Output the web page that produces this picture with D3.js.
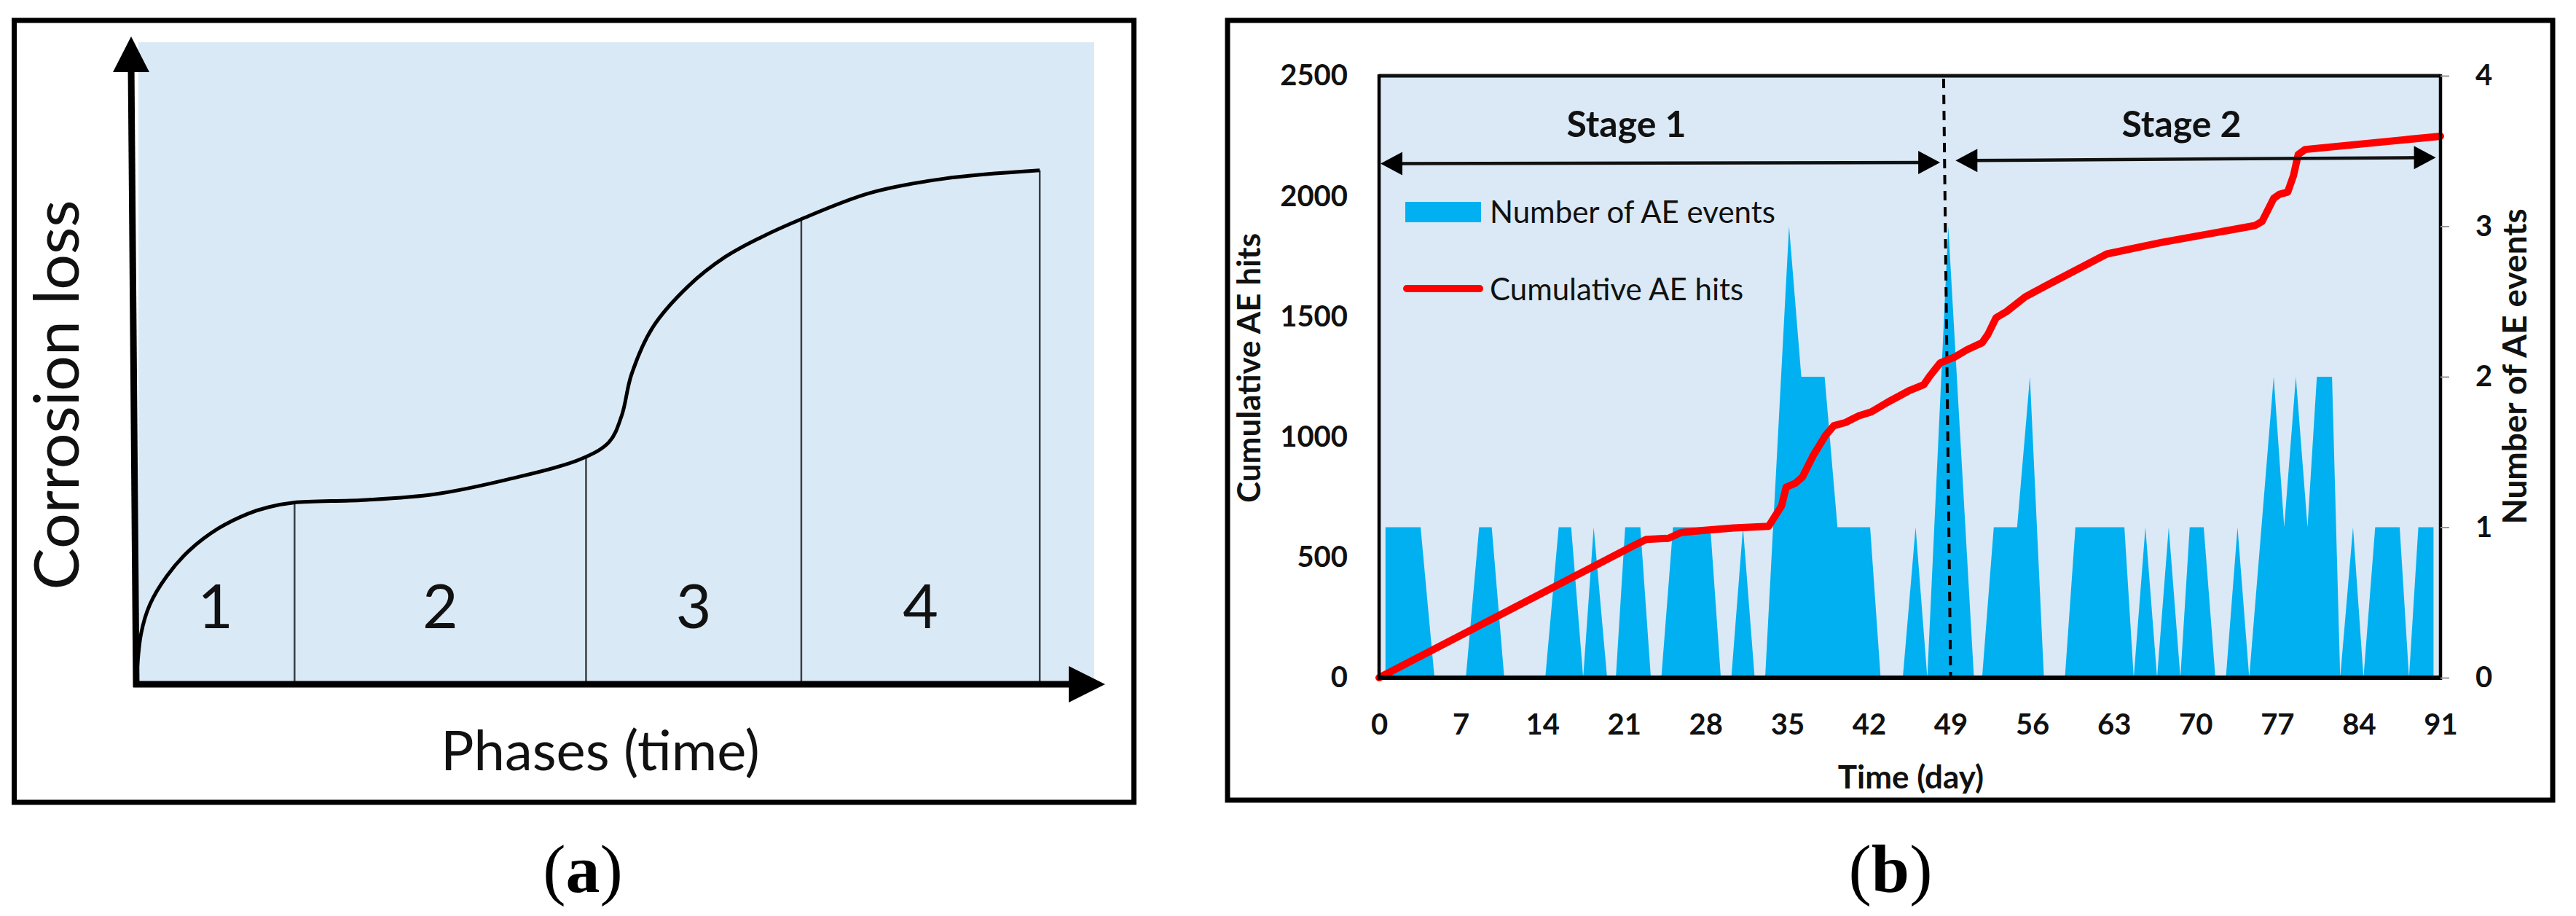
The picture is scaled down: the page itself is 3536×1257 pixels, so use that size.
<!DOCTYPE html>
<html><head><meta charset="utf-8">
<script src="https://cdn.jsdelivr.net/npm/d3@7"></script>
<style>body{margin:0;background:#fff}svg{display:block}</style>
</head><body>
<svg id="c" width="3536" height="1257"></svg>
<script>
// ---------- Panel (a) data (schematic, arbitrary units 0..10) ----------
const curveTime = [0, 0.05, 0.14, 0.32, 0.55, 0.85, 1.16, 1.37, 1.63, 2.35, 3.09, 3.85, 4.60, 4.90, 5.03, 5.13, 5.35, 5.72, 6.10, 6.48, 6.88, 7.60, 8.36, 9.36];
const curveLoss = [0, 0.78, 1.23, 1.68, 2.07, 2.41, 2.64, 2.74, 2.81, 2.85, 2.94, 3.17, 3.48, 3.75, 4.16, 4.79, 5.52, 6.16, 6.61, 6.92, 7.19, 7.60, 7.82, 7.95];
const phaseBoundaryTime = [1.64, 4.66, 6.89, 9.36];
const phaseBoundaryLoss = [2.81, 3.52, 7.20, 7.95];
const phaseLabels = ["1", "2", "3", "4"];
const panelATitleX = "Phases (time)";
const panelATitleY = "Corrosion loss";

// ---------- Panel (b) data ----------
const dayTicks = [0, 7, 14, 21, 28, 35, 42, 49, 56, 63, 70, 77, 84, 91];
const hitsTicks = [0, 500, 1000, 1500, 2000, 2500];
const eventTicks = [0, 1, 2, 3, 4];

// Number of AE events (vertices of the area, day / count)
const aeDay = [0.55, 3.56, 4.75, 7.44, 8.58, 9.66, 10.73, 14.25, 15.4, 16.47, 17.5, 18.4, 19.55,
  20.3, 21.1, 22.4, 23.3, 24.2, 25.2, 28.4, 29.3, 30.2, 31.2, 32.2,
  33.1, 35.15, 36.2, 38.2, 39.3, 42.1, 43.0, 44.9, 46.0, 47.0, 48.8, 51.0,
  51.7, 52.7, 54.7, 55.8, 57.0, 58.8, 59.7, 63.9, 64.7, 65.7, 66.7, 67.7, 68.7, 69.5, 70.7, 71.7,
  72.6, 73.6, 74.6, 76.7, 77.6, 78.6, 79.6, 80.4, 81.7, 82.4, 83.5, 84.4, 85.4, 87.5, 88.3, 89.1, 90.4];
const aeCount = [1, 1, 0, 0, 1, 1, 0, 0, 1, 1, 0, 1, 0,
  0, 1, 1, 0, 0, 1, 1, 0, 0, 1, 0,
  0, 3, 2, 2, 1, 1, 0, 0, 1, 0, 3, 0,
  0, 1, 1, 2, 0, 0, 1, 1, 0, 1, 0, 1, 0, 1, 1, 0,
  0, 1, 0, 2, 1, 2, 1, 2, 2, 0, 1, 0, 1, 1, 0, 1, 1];

// Cumulative AE hits
const hitDay = [0, 21.8, 22.9, 24.8, 25.9, 27.9, 30.4, 33.4, 34.5, 34.9, 35.7, 36.3, 37.2, 38.3, 39.0, 40.0, 41.1, 42.2,
  43.6, 45.4, 46.7, 47.2, 48.1, 49.4, 50.4, 51.7, 52.2, 52.9, 53.8, 55.4, 57.1, 62.4, 67.1, 75.1, 75.7, 76.7, 77.2, 77.9, 78.4, 78.8, 79.4, 91];
const hitCum = [0, 548, 574, 579, 603, 612, 622, 629, 713, 791, 808, 834, 921, 1008, 1047, 1060, 1087, 1104,
  1144, 1191, 1217, 1252, 1307, 1333, 1362, 1391, 1426, 1495, 1521, 1582, 1626, 1760, 1808, 1878, 1895, 1991, 2008, 2017, 2086, 2173, 2194, 2249];

const stageNames = ["Stage 1", "Stage 2"];
const stageFrom = [0, 49.3];
const stageTo = [48.1, 90.6];
const stageLabelDay = [21.2, 68.8];
const stageLevel = [2135, 2148];
const stageLevelEnd = [2140, 2160];
const dividerDayTop = 48.4, dividerDayBottom = 49;
const seriesNames = ["Number of AE events", "Cumulative AE hits"];

const svg = d3.select("#c");
const FONT = "Lato, 'Open Sans', sans-serif";

// =================== PANEL A ===================
const ax = d3.scaleLinear().domain([0, 10]).range([187, 1512]);
const ay = d3.scaleLinear().domain([0, 10]).range([939, 52]);

svg.append("rect").attr("x", 19.5).attr("y", 28).attr("width", 1537).attr("height", 1073)
  .attr("fill", "none").attr("stroke", "#000").attr("stroke-width", 7);

svg.append("rect").attr("x", 190).attr("y", 58).attr("width", 1312).attr("height", 877).attr("fill", "#dae9f6");

// phase boundary lines
svg.append("g").selectAll("line").data(phaseBoundaryTime).join("line")
  .attr("x1", d => ax(d)).attr("x2", d => ax(d))
  .attr("y1", (d, i) => ay(phaseBoundaryLoss[i])).attr("y2", ay(0))
  .attr("stroke", "#3a3f44").attr("stroke-width", 2.5);

// curve
const curvePts = curveTime.map((t, i) => [t, curveLoss[i]]);
svg.append("path").datum(curvePts)
  .attr("d", d3.line().x(d => ax(d[0])).y(d => ay(d[1])).curve(d3.curveCatmullRom.alpha(0.5)))
  .attr("fill", "none").attr("stroke", "#000").attr("stroke-width", 5);

// axes with arrows
svg.append("line").attr("x1", 187).attr("y1", 943).attr("x2", 180).attr("y2", 90)
  .attr("stroke", "#000").attr("stroke-width", 9);
svg.append("polygon").attr("points", "180,50 155,99 205,99").attr("fill", "#000");
svg.append("line").attr("x1", 183).attr("y1", 939).attr("x2", 1475).attr("y2", 939)
  .attr("stroke", "#000").attr("stroke-width", 9);
svg.append("polygon").attr("points", "1517,939 1467,914 1467,964").attr("fill", "#000");

// phase labels
const phaseStarts = [0].concat(phaseBoundaryTime.slice(0, 3));
svg.append("g").selectAll("text").data(phaseLabels).join("text")
  .attr("x", (d, i) => ax((phaseStarts[i] + phaseBoundaryTime[i]) / 2))
  .attr("y", 862).attr("text-anchor", "middle")
  .attr("font-family", FONT).attr("font-size", 84).attr("fill", "#111").text(d => d);

svg.append("text").attr("x", 824).attr("y", 1057).attr("text-anchor", "middle")
  .attr("font-family", FONT).attr("font-size", 76).attr("fill", "#111").text(panelATitleX);
svg.append("text").attr("transform", "translate(108,542) rotate(-90)").attr("text-anchor", "middle")
  .attr("font-family", FONT).attr("font-size", 86).attr("fill", "#111").text(panelATitleY);

// =================== PANEL B ===================
const x = d3.scaleLinear().domain([0, 91]).range([1893, 3350]);
const yL = d3.scaleLinear().domain([0, 2500]).range([930, 104]);
const yR = d3.scaleLinear().domain([0, 4]).range([930, 104]);

svg.append("rect").attr("x", 1685).attr("y", 28).attr("width", 1819).attr("height", 1070)
  .attr("fill", "none").attr("stroke", "#000").attr("stroke-width", 7);

svg.append("rect").attr("x", x(0)).attr("y", yL(2500)).attr("width", x(91) - x(0)).attr("height", yL(0) - yL(2500))
  .attr("fill", "#dae9f5");

// area
const aePts = aeDay.map((d, i) => ({day: d, count: aeCount[i]}));
svg.append("path").datum(aePts)
  .attr("d", d3.area().x(d => x(d.day)).y0(yR(0)).y1(d => yR(d.count)))
  .attr("fill", "#00b0f0");

// top border
svg.append("line").attr("x1", x(0)).attr("x2", x(91)).attr("y1", yL(2500)).attr("y2", yL(2500))
  .attr("stroke", "#111").attr("stroke-width", 5);

// divider dashed line
svg.append("line").attr("x1", x(dividerDayTop)).attr("y1", yL(2500) + 4)
  .attr("x2", x(dividerDayBottom)).attr("y2", yL(0))
  .attr("stroke", "#000").attr("stroke-width", 4).attr("stroke-dasharray", "13,9");

// red cumulative line
const hitPts = hitDay.map((d, i) => ({day: d, v: hitCum[i]}));
svg.append("path").datum(hitPts)
  .attr("d", d3.line().x(d => x(d.day)).y(d => yL(d.v)))
  .attr("fill", "none").attr("stroke", "#ff0000").attr("stroke-width", 10)
  .attr("stroke-linejoin", "round").attr("stroke-linecap", "round");

// stage arrows
function arrowHead(tx, ty, dir) {
  const L = 30, H = 16;
  return `${tx},${ty} ${tx - dir * L},${ty - H} ${tx - dir * L},${ty + H}`;
}
stageNames.forEach((s, i) => {
  const x1 = x(stageFrom[i]), x2 = x(stageTo[i]);
  const y1 = yL(stageLevel[i]), y2 = yL(stageLevelEnd[i]);
  svg.append("line").attr("x1", x1 + 20).attr("y1", y1).attr("x2", x2 - 20).attr("y2", y2)
    .attr("stroke", "#111").attr("stroke-width", 4.5);
  svg.append("polygon").attr("points", arrowHead(x1 + 2, y1, -1)).attr("fill", "#000");
  svg.append("polygon").attr("points", arrowHead(x2, y2, 1)).attr("fill", "#000");
  svg.append("text").attr("x", x(stageLabelDay[i])).attr("y", yL(2300)).attr("dy", "0.35em")
    .attr("text-anchor", "middle").attr("font-family", FONT).attr("font-weight", 700)
    .attr("font-size", 50).attr("fill", "#111").text(s);
});

// axis lines
svg.append("line").attr("x1", x(0)).attr("x2", x(0)).attr("y1", yL(2500) - 2).attr("y2", yL(0) + 3)
  .attr("stroke", "#000").attr("stroke-width", 4.5);
svg.append("line").attr("x1", x(91)).attr("x2", x(91)).attr("y1", yL(2500) - 2).attr("y2", yL(0) + 3)
  .attr("stroke", "#000").attr("stroke-width", 4.5);
svg.append("line").attr("x1", x(0)).attr("x2", x(91)).attr("y1", yL(0)).attr("y2", yL(0))
  .attr("stroke", "#000").attr("stroke-width", 6);

// axes
const fmt = d3.format("d");
const gL = svg.append("g").attr("transform", `translate(${x(0)},0)`)
  .call(d3.axisLeft(yL).tickValues(hitsTicks).tickFormat(fmt).tickSize(0).tickPadding(43));
const gR = svg.append("g").attr("transform", `translate(${x(91)},0)`)
  .call(d3.axisRight(yR).tickValues(eventTicks).tickFormat(fmt).tickSize(12).tickPadding(36));
const gB = svg.append("g").attr("transform", `translate(0,${yL(0)})`)
  .call(d3.axisBottom(x).tickValues(dayTicks).tickFormat(fmt).tickSize(0).tickPadding(50));
[gL, gR, gB].forEach(g => {
  g.select(".domain").remove();
  g.selectAll("text").attr("font-family", FONT).attr("font-weight", 700)
    .attr("font-size", 40).attr("fill", "#111");
});
gR.selectAll(".tick line").attr("stroke", "#999").attr("stroke-width", 2);

// axis titles
svg.append("text").attr("transform", "translate(1715,505) rotate(-90)").attr("dy", "0.35em")
  .attr("text-anchor", "middle").attr("font-family", FONT).attr("font-weight", 700)
  .attr("font-size", 44).attr("fill", "#111").text("Cumulative AE hits");
svg.append("text").attr("transform", "translate(3452,503) rotate(-90)").attr("dy", "0.35em")
  .attr("text-anchor", "middle").attr("font-family", FONT).attr("font-weight", 700)
  .attr("font-size", 46).attr("fill", "#111").text("Number of AE events");
svg.append("text").attr("x", 2623).attr("y", 1067).attr("dy", "0.35em")
  .attr("text-anchor", "middle").attr("font-family", FONT).attr("font-weight", 700)
  .attr("font-size", 44).attr("fill", "#111").text("Time (day)");

// legend
svg.append("rect").attr("x", 1929).attr("y", 277).attr("width", 104).attr("height", 28).attr("fill", "#00b0f0");
svg.append("line").attr("x1", 1931).attr("x2", 2031).attr("y1", 396).attr("y2", 396)
  .attr("stroke", "#ff0000").attr("stroke-width", 10).attr("stroke-linecap", "round");
svg.append("g").selectAll("text").data(seriesNames).join("text")
  .attr("x", 2045).attr("y", (d, i) => i === 0 ? 291 : 397).attr("dy", "0.35em")
  .attr("font-family", FONT).attr("font-size", 42).attr("fill", "#111").text(d => d);

// panel captions
[["a", 800], ["b", 2595]].forEach(([c, cx]) => {
  const t = svg.append("text").attr("x", cx).attr("y", 1224).attr("text-anchor", "middle")
    .attr("font-family", "'Liberation Serif', 'Times New Roman', serif").attr("font-size", 94).attr("fill", "#000");
  t.append("tspan").text("(");
  t.append("tspan").attr("font-weight", 700).text(c);
  t.append("tspan").text(")");
});
</script>
</body></html>
